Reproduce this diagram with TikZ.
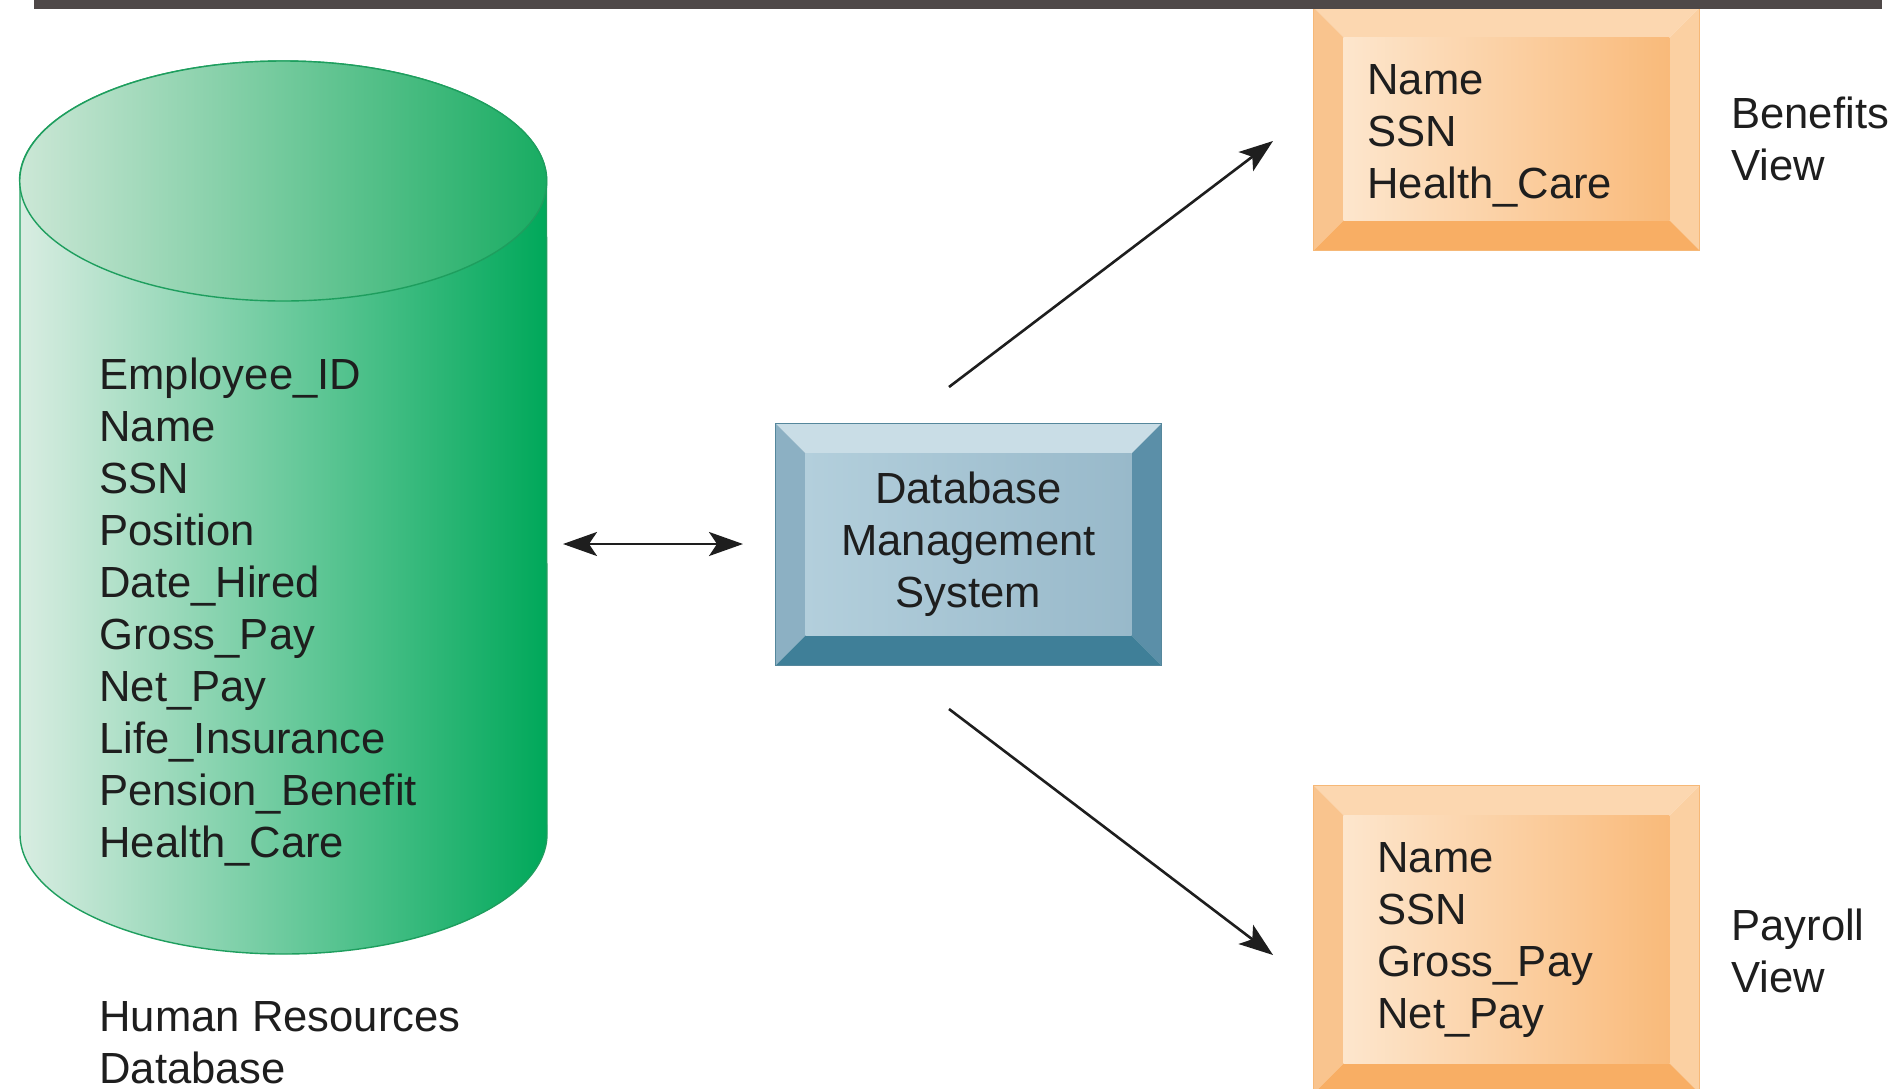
\documentclass[tikz,border=0pt]{standalone}
\usepackage{fontspec}
\setmainfont{Liberation Sans}
\usetikzlibrary{arrows.meta,backgrounds,calc}
\definecolor{txt}{HTML}{1E1E1E}
\definecolor{barc}{HTML}{4E4848}
\definecolor{cylL}{HTML}{D9EDE2}
\definecolor{cylR}{HTML}{00A85A}
\definecolor{cylTopL}{HTML}{CCE7D6}
\definecolor{cylTopR}{HTML}{18AC62}
\definecolor{cylLine}{HTML}{1E9E5E}
\definecolor{bTop}{HTML}{C9DDE6}
\definecolor{bLeft}{HTML}{8CB0C3}
\definecolor{bRight}{HTML}{5B8FA8}
\definecolor{bBot}{HTML}{3F7F98}
\definecolor{bFaceL}{HTML}{B3CFDC}
\definecolor{bFaceR}{HTML}{98B9CA}
\definecolor{bLine}{HTML}{55879C}
\definecolor{oTop}{HTML}{FCD7B0}
\definecolor{oLeft}{HTML}{F9C48E}
\definecolor{oRight}{HTML}{FBD0A2}
\definecolor{oBot}{HTML}{F8AE64}
\definecolor{oFaceL}{HTML}{FDE6CD}
\definecolor{oFaceR}{HTML}{F9BA7A}
\definecolor{oLine}{HTML}{F6B877}
\newcommand\bevelbox[9]{%
  \fill[#3] (#1.north west) -- (#1.north east) -- ($(#1.north east)+(-#2,#2)$) -- ($(#1.north west)+(#2,#2)$) -- cycle;
  \fill[#4] (#1.north west) -- ($(#1.north west)+(#2,#2)$) -- ($(#1.south west)+(#2,-#2)$) -- (#1.south west) -- cycle;
  \fill[#5] (#1.north east) -- ($(#1.north east)+(-#2,#2)$) -- ($(#1.south east)+(-#2,-#2)$) -- (#1.south east) -- cycle;
  \fill[#6] (#1.south west) -- ($(#1.south west)+(#2,-#2)$) -- ($(#1.south east)+(-#2,-#2)$) -- (#1.south east) -- cycle;
  \shade[left color=#7,right color=#8] ($(#1.north west)+(#2,#2)$) rectangle ($(#1.south east)+(-#2,-#2)$);
  \draw[#9, line width=0.6pt] (#1.north west) rectangle (#1.south east);
}
\begin{document}
\begin{tikzpicture}[x=0.5pt,y=-0.5pt,
  lbl/.style={font=\fontsize{21.8}{26}\selectfont, text=txt, align=left, inner sep=0pt, anchor=base west},
  boxnode/.style={rectangle, draw=none, inner sep=0pt, minimum width=192.5pt},
  conn/.style={line width=1.3pt, draw=txt, -{Stealth[length=17pt,width=12pt,inset=4pt]}},
  dconn/.style={line width=1.3pt, draw=txt, {Stealth[length=17pt,width=12pt,inset=4pt]}-{Stealth[length=17pt,width=12pt,inset=4pt]}}
]
\useasboundingbox (0,0) rectangle (1895,1088);

% cylinder
\shade[left color=cylL, right color=cylR, draw=cylLine, line width=0.7pt]
  (20,181) -- (20,834) arc[start angle=180, end angle=360, x radius=131.75pt, y radius=60pt]
  -- (546.5,181) arc[start angle=0, end angle=180, x radius=131.75pt, y radius=60pt] -- cycle;
\shade[left color=cylTopL, right color=cylTopR, draw=cylLine, line width=0.7pt]
  (283.25,181) ellipse[x radius=131.75pt, y radius=60pt];

% multi-line labels: anchor is the baseline of the last line
\node[lbl] (fields) at (99,857) {Employee\_ID\\Name\\SSN\\Position\\Date\_Hired\\Gross\_Pay\\Net\_Pay\\Life\_Insurance\\Pension\_Benefit\\Health\_Care};
\node[lbl] (hrdb) at (99,1083) {Human Resources\\Database};

% DBMS box
\node[boxnode, minimum height=120.5pt, font=\fontsize{21.8}{26}\selectfont, text=txt, align=center] (dbms) at (968.5,544.5) {Database\\Management\\System};
\begin{scope}[on background layer]
\bevelbox{dbms}{30}{bTop}{bLeft}{bRight}{bBot}{bFaceL}{bFaceR}{bLine}
\end{scope}

% Benefits view
\node[boxnode, minimum height=121pt] (benefits) at (1506.5,129) {};
\begin{scope}[on background layer]
\bevelbox{benefits}{30}{oTop}{oLeft}{oRight}{oBot}{oFaceL}{oFaceR}{oLine}
\end{scope}
\node[lbl] (bentext) at (1367,198) {Name\\SSN\\Health\_Care};
\node[lbl] (benlbl) at (1731,180) {Benefits\\View};

% Payroll view
\node[boxnode, minimum height=153.5pt] (payroll) at (1506.5,939.5) {};
\begin{scope}[on background layer]
\bevelbox{payroll}{30}{oTop}{oLeft}{oRight}{oBot}{oFaceL}{oFaceR}{oLine}
\end{scope}
\node[lbl] (paytext) at (1377,1028) {Name\\SSN\\Gross\_Pay\\Net\_Pay};
\node[lbl] (paylbl) at (1731,992) {Payroll\\View};

% connectors
\coordinate (cylend) at (563,544);
\coordinate (dbmsend) at (743,544);
\coordinate (upstart) at (949,387);
\coordinate (upend) at (1273,141);
\coordinate (downstart) at (949,709);
\coordinate (downend) at (1273,955);
\draw[dconn] (cylend) -- (dbmsend);
\draw[conn] (upstart) -- (upend);
\draw[conn] (downstart) -- (downend);

% top bar
\fill[barc] (34,0) rectangle (1882,9);
\end{tikzpicture}
\end{document}
